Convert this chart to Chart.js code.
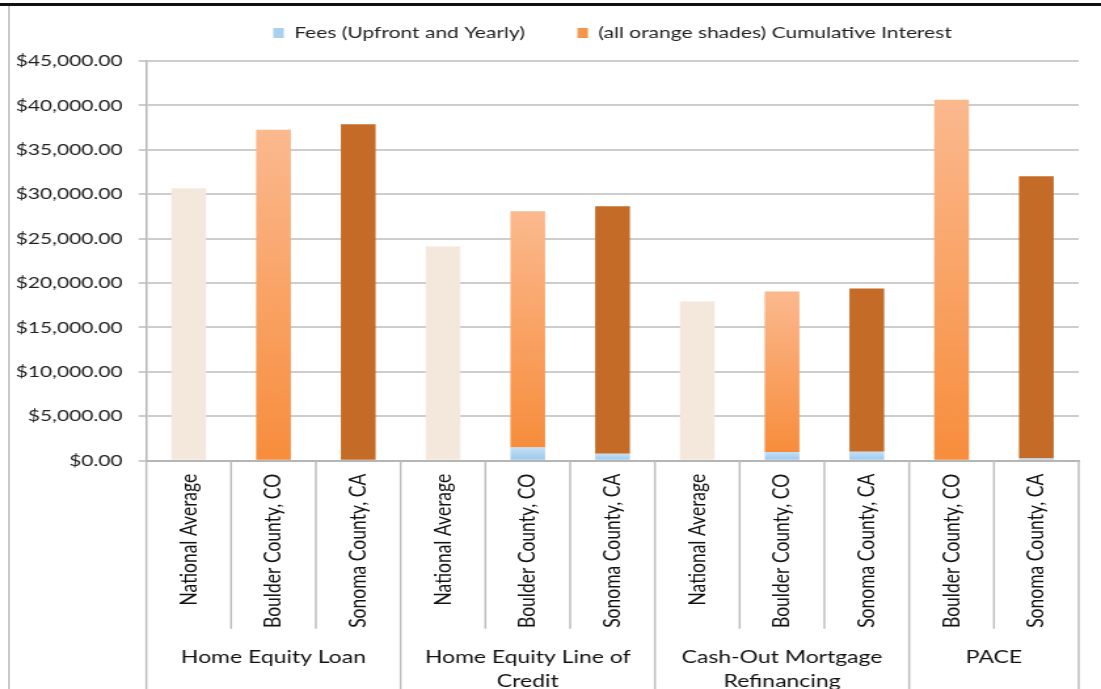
<!DOCTYPE html>
<html>
<head>
<meta charset="utf-8">
<script src="https://cdn.jsdelivr.net/npm/chart.js@4.4.1/dist/chart.umd.min.js"></script>
<style>
    html, body { margin: 0; padding: 0; background: #fff; overflow: hidden; }
    #wrap { position: relative; width: 1101px; height: 689px; overflow: hidden; }
    #wrap:before { content: ''; position: absolute; left: 0; top: 3px; width: 1101px; height: 3px; background: #111; z-index: 2; }
    #wrap:after { content: ''; position: absolute; left: 8px; top: 6px; width: 2px; height: 683px; background: #c8c8c8; z-index: 2; }
    /* the source picture is stretched sideways, so the chart is drawn narrow and widened */
    #stretch { position: absolute; left: 0; top: 0; width: 840px; height: 689px; transform: scaleX(1.3107); transform-origin: 0 0; }
    canvas { display: block; }
</style>
</head>
<body>
<div id="wrap"><div id="stretch"><canvas id="costChart" width="840" height="689"></canvas></div></div>
<script>
const barLabels = [
    'National Average', 'Boulder County, CO', 'Sonoma County, CA',
    'National Average', 'Boulder County, CO', 'Sonoma County, CA',
    'National Average', 'Boulder County, CO', 'Sonoma County, CA',
    'Boulder County, CO', 'Sonoma County, CA'
];
const groupNames = [['Home Equity Loan'], ['Home Equity Line of', 'Credit'], ['Cash-Out Mortgage', 'Refinancing'], ['PACE']];
const groupSizes = [3, 3, 3, 2];
const feeValues = [0, 0, 0, 0, 1500, 790, 0, 980, 1000, 0, 260];
const interestValues = [30680, 37260, 37890, 24130, 26580, 27850, 17940, 18080, 18400, 40640, 31770];
const yTicks = [0, 5000, 10000, 15000, 20000, 25000, 30000, 35000, 40000, 45000];

const labelFont = "Lato, 'Open Sans', sans-serif";

// colour of the interest part depends on which place the bar is for
const interestColor = ctx => {
    const label = barLabels[ctx.dataIndex] || '';
    if (label.startsWith('National')) return '#f4e8dc';
    if (label.startsWith('Sonoma')) return '#c46c27';
    const chart = ctx.chart;
    if (!chart.chartArea || !chart.scales.y) return '#f89a55';
    const y = chart.scales.y;
    const i = ctx.dataIndex;
    const bottom = y.getPixelForValue(feeValues[i]);
    const top = y.getPixelForValue(feeValues[i] + interestValues[i]);
    const g = chart.ctx.createLinearGradient(0, bottom, 0, top);
    g.addColorStop(0, '#f78d3c');
    g.addColorStop(1, '#fbb98e');
    return g;
};

const feeColor = ctx => {
    const chart = ctx.chart;
    if (!chart.chartArea || !chart.scales.y) return '#acd3f1';
    const y = chart.scales.y;
    const i = ctx.dataIndex;
    const g = chart.ctx.createLinearGradient(0, y.getPixelForValue(0), 0, y.getPixelForValue(feeValues[i]));
    g.addColorStop(0, '#9cc7ea');
    g.addColorStop(1, '#c3e0f7');
    return g;
};

// legend sits centred over the plot, near the top edge
const legendOverPlot = {
    id: 'legendOverPlot',
    afterLayout(chart) {
        const lg = chart.legend;
        if (!lg) return;
        lg.left = chart.chartArea.left;
        lg.right = chart.chartArea.right;
        lg.width = lg.right - lg.left;
        lg.top = -15;
        lg.bottom = lg.top + lg.height;
    }
};

// separators and group names under the rotated labels
const groupAxis = {
    id: 'groupAxis',
    afterDraw(chart) {
        const x = chart.scales.x;
        const ctx = chart.ctx;
        const n = barLabels.length;
        const edges = [x.left];
        for (let i = 0; i < n - 1; i++) {
            edges.push((x.getPixelForValue(i) + x.getPixelForValue(i + 1)) / 2);
        }
        edges.push(x.right);

        const groupEdges = [0];
        groupSizes.forEach(s => groupEdges.push(groupEdges[groupEdges.length - 1] + s));

        ctx.save();
        ctx.strokeStyle = '#bdbdbd';
        ctx.lineWidth = 1.5;
        edges.forEach((px, k) => {
            const isGroup = groupEdges.includes(k);
            ctx.beginPath();
            ctx.moveTo(px, x.top);
            ctx.lineTo(px, isGroup ? chart.height : x.top + 168);
            ctx.stroke();
        });

        ctx.fillStyle = '#111';
        ctx.font = '17.5px ' + labelFont;
        ctx.textAlign = 'center';
        ctx.textBaseline = 'middle';
        groupNames.forEach((lines, g) => {
            const cx = (edges[groupEdges[g]] + edges[groupEdges[g + 1]]) / 2;
            lines.forEach((line, j) => ctx.fillText(line, cx, 657 + j * 24));
        });
        ctx.restore();
    }
};

new Chart(document.getElementById('costChart'), {
    type: 'bar',
    data: {
        labels: barLabels,
        datasets: [
            {
                label: 'Fees (Upfront and Yearly)',
                data: feeValues,
                backgroundColor: feeColor
            },
            {
                label: '(all orange shades) Cumulative Interest',
                data: interestValues,
                backgroundColor: interestColor
            }
        ]
    },
    options: {
        responsive: false,
        animation: false,
        layout: { padding: { top: -5, left: 0, right: 17, bottom: 56 } },
        datasets: { bar: { barPercentage: 0.41, categoryPercentage: 1 } },
        plugins: {
            tooltip: { enabled: false },
            legend: {
                position: 'top',
                labels: {
                    color: '#222',
                    font: { family: labelFont, size: 16 },
                    boxWidth: 8,
                    boxHeight: 10,
                    padding: 40,
                    generateLabels: chart => chart.data.datasets.map((ds, i) => ({
                        text: ds.label,
                        fillStyle: i === 0 ? '#a9d0ef' : '#f7954a',
                        strokeStyle: 'rgba(0,0,0,0)',
                        lineWidth: 0,
                        fontColor: '#222',
                        datasetIndex: i
                    }))
                }
            }
        },
        scales: {
            x: {
                stacked: true,
                grid: { display: false },
                border: { display: true, color: '#b5b5b5', width: 2 },
                ticks: {
                    minRotation: 90,
                    maxRotation: 90,
                    padding: 5,
                    color: '#111',
                    font: { family: labelFont, size: 17.5 }
                }
            },
            y: {
                stacked: true,
                min: 0,
                max: 45000,
                afterBuildTicks: axis => { axis.ticks = yTicks.map(v => ({ value: v })); },
                grid: { color: '#cdcdcd', lineWidth: 2, tickLength: 6 },
                border: { display: true, color: '#b5b5b5', width: 1.5 },
                ticks: {
                    padding: 12,
                    color: '#222',
                    font: { family: labelFont, size: 16 },
                    callback: v => '$' + Number(v).toLocaleString('en-US', { minimumFractionDigits: 2, maximumFractionDigits: 2 })
                }
            }
        }
    },
    plugins: [legendOverPlot, groupAxis]
});
</script>
</body>
</html>
